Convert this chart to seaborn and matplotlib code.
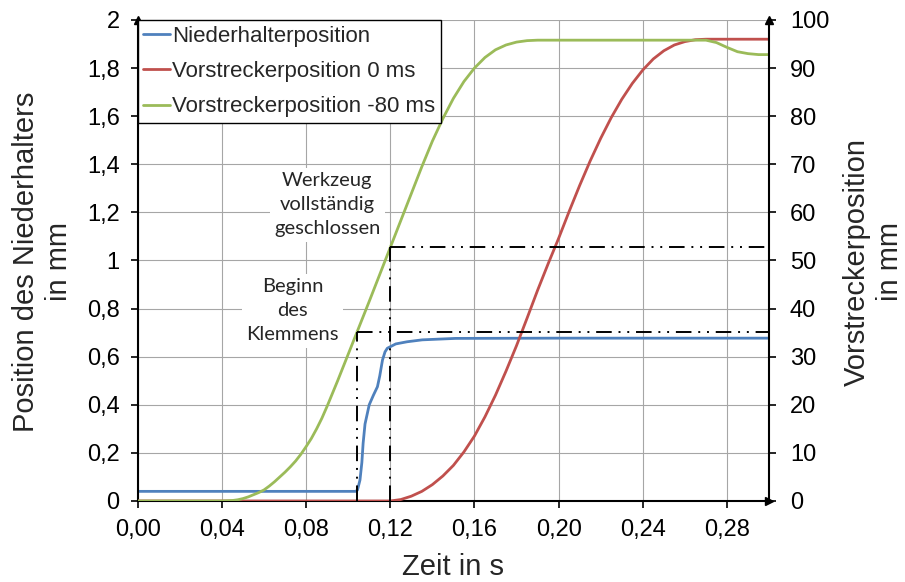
import numpy as np
import matplotlib
matplotlib.use("Agg")
from matplotlib import pyplot as plt
from matplotlib.ticker import FuncFormatter
import seaborn as sns

sns.set_theme(style="white")
plt.rcParams["font.family"] = ["Liberation Sans", "DejaVu Sans"]

# Niederhalterposition (linke Achse, mm)
nh_t = [0.00, 0.05, 0.1035, 0.1044, 0.1056, 0.1065, 0.1071, 0.108, 0.110, 0.112,
        0.1139, 0.115, 0.1163, 0.1175, 0.1186, 0.1226, 0.128, 0.1352, 0.151, 0.20, 0.30]
nh_mm = [0.04, 0.04, 0.04, 0.045, 0.087, 0.16, 0.24, 0.32, 0.40, 0.44,
         0.475, 0.52, 0.586, 0.62, 0.635, 0.653, 0.662, 0.67, 0.676, 0.677, 0.677]

# Vorstreckerposition 0 ms (rechte Achse, mm)
vs0_t = [0.00, 0.06, 0.12, 0.125, 0.13, 0.135, 0.14, 0.145, 0.15, 0.155, 0.16, 0.165,
         0.17, 0.175, 0.18, 0.185, 0.19, 0.195, 0.20, 0.205, 0.21, 0.215, 0.22, 0.225,
         0.23, 0.235, 0.24, 0.245, 0.25, 0.255, 0.26, 0.265, 0.27, 0.30]
vs0_mm = [0, 0, 0, 0.3, 1.0, 2.0, 3.4, 5.2, 7.4, 10.2, 13.5, 17.5,
          22.0, 27.0, 32.3, 38.0, 43.8, 49.3, 54.6, 60.2, 65.6, 70.7, 75.4, 79.7,
          83.5, 86.8, 89.6, 91.9, 93.6, 94.8, 95.5, 95.9, 96.0, 96.0]

# Vorstreckerposition -80 ms (rechte Achse, mm)
vs80_t = [0.00, 0.04, 0.045, 0.0475, 0.05, 0.0525, 0.055, 0.0575, 0.06, 0.0625, 0.065,
          0.0675, 0.07, 0.0725, 0.075, 0.0775, 0.08, 0.0825, 0.085, 0.0875, 0.09,
          0.095, 0.10, 0.105, 0.11, 0.115, 0.12, 0.125, 0.13, 0.135, 0.14,
          0.145, 0.15, 0.155, 0.16, 0.165, 0.17, 0.175, 0.18, 0.185, 0.19, 0.23,
          0.27, 0.275, 0.28, 0.285, 0.29, 0.295, 0.30]
vs80_mm = [0, 0, 0.1, 0.25, 0.5, 0.85, 1.3, 1.75, 2.3, 3.1, 4.0,
           5.0, 6.0, 7.1, 8.3, 9.7, 11.3, 13.0, 15.0, 17.2, 19.7,
           25.0, 30.5, 36.0, 41.5, 47.1, 52.7, 58.3, 63.9, 69.5, 74.8,
           79.5, 83.7, 87.2, 90.0, 92.2, 93.8, 94.8, 95.4, 95.7, 95.8, 95.8,
           95.8, 95.3, 94.3, 93.4, 93.0, 92.8, 92.8]

# Markierungen (Zeit in s, Vorstreckerposition in mm)
klemm_t, klemm_pos = 0.104, 35.1
geschl_t, geschl_pos = 0.12, 52.7

BLUE = "#4F81BD"
RED = "#C0504D"
GREEN = "#9BBB59"

fig = plt.figure(figsize=(9.05, 5.82), dpi=100)
ax = fig.add_axes([0.1522, 0.1392, 0.6976, 0.8265])
ax2 = ax.twinx()

sns.lineplot(x=nh_t, y=nh_mm, ax=ax, color=BLUE, lw=2.0, label="Niederhalterposition")
sns.lineplot(x=vs0_t, y=vs0_mm, ax=ax2, color=RED, lw=2.0, label="Vorstreckerposition 0 ms")
sns.lineplot(x=vs80_t, y=vs80_mm, ax=ax2, color=GREEN, lw=2.0, label="Vorstreckerposition -80 ms")

# dash-dot-dot Hilfslinien
dd = (8, 3.5, 1, 3.5, 1, 3.5)
for t, pos in [(klemm_t, klemm_pos), (geschl_t, geschl_pos)]:
    ax2.plot([t, t], [0, pos], color="black", lw=1.4, dashes=dd)
    ax2.plot([t, 0.30], [pos, pos], color="black", lw=1.4, dashes=dd)

for a in (ax, ax2):
    if a.get_legend() is not None:
        a.get_legend().remove()
    a.set_xlabel("")
    a.set_ylabel("")

ax.set_xlim(0, 0.30)
ax.set_ylim(0, 2)
ax2.set_ylim(0, 100)
ax.set_xticks(np.arange(0, 0.29, 0.04))
ax.set_yticks(np.arange(0, 2.01, 0.2))
ax2.set_yticks(np.arange(0, 101, 10))
ax.xaxis.set_major_formatter(FuncFormatter(lambda v, p: f"{v:.2f}".replace(".", ",")))
ax.yaxis.set_major_formatter(FuncFormatter(lambda v, p: f"{round(v, 1):g}".replace(".", ",")))
ax2.yaxis.set_major_formatter(FuncFormatter(lambda v, p: f"{v:.0f}"))

ax.grid(True, color="#a6a6a6", lw=0.8)
ax2.grid(False)

for s in ["top", "right"]:
    ax.spines[s].set_visible(False)
for s in ["top", "left", "bottom"]:
    ax2.spines[s].set_visible(False)
for sp in [ax.spines["left"], ax.spines["bottom"], ax2.spines["right"]]:
    sp.set_color("black")
    sp.set_linewidth(1.5)

ax.tick_params(axis="both", direction="out", length=5, width=1.2, colors="black",
               labelsize=17, pad=8, bottom=True, left=True)
ax2.tick_params(axis="y", direction="out", length=5, width=1.2, colors="black",
                labelsize=17, pad=10, right=True)

# Pfeilspitzen an den Achsen
ax.plot(0, 1, marker="^", color="black", ms=6, transform=ax.transAxes, clip_on=False)
ax2.plot(1, 1, marker="^", color="black", ms=6, transform=ax2.transAxes, clip_on=False)
ax2.plot(1, 0, marker=">", color="black", ms=6, transform=ax2.transAxes, clip_on=False)

ax.text(0.090, 1.231, "Werkzeug\nvollständig\ngeschlossen", ha="center", va="center",
        fontsize=14.5, family=["Lato", "DejaVu Sans"], linespacing=1.5,
        bbox=dict(fc="white", ec="none", pad=3), zorder=5)
ax.text(0.0735, 0.79, "Beginn\ndes\nKlemmens", ha="center", va="center",
        fontsize=14.5, family=["Lato", "DejaVu Sans"], linespacing=1.5,
        bbox=dict(fc="white", ec="none", pad=3), zorder=5)

h1, l1 = ax.get_legend_handles_labels()
h2, l2 = ax2.get_legend_handles_labels()
leg = ax2.legend(h1 + h2, l1 + l2, loc="upper left", bbox_to_anchor=(0, 1),
                 borderaxespad=0, fontsize=16, frameon=True, fancybox=False,
                 framealpha=1, edgecolor="black", handlelength=1.2,
                 handletextpad=0.1, labelspacing=0.65, borderpad=0.25)
leg.get_frame().set_linewidth(1.0)

fig.text(0.047, 0.55, "Position des Niederhalters\nin mm", rotation=90,
         ha="center", va="center", fontsize=21, multialignment="center")
fig.text(0.965, 0.55, "Vorstreckerposition\nin mm", rotation=90,
         ha="center", va="center", fontsize=21, multialignment="center")
fig.text(0.5006, 0.026, "Zeit in s", ha="center", va="center", fontsize=21)

fig.savefig("out.png", dpi=100)
